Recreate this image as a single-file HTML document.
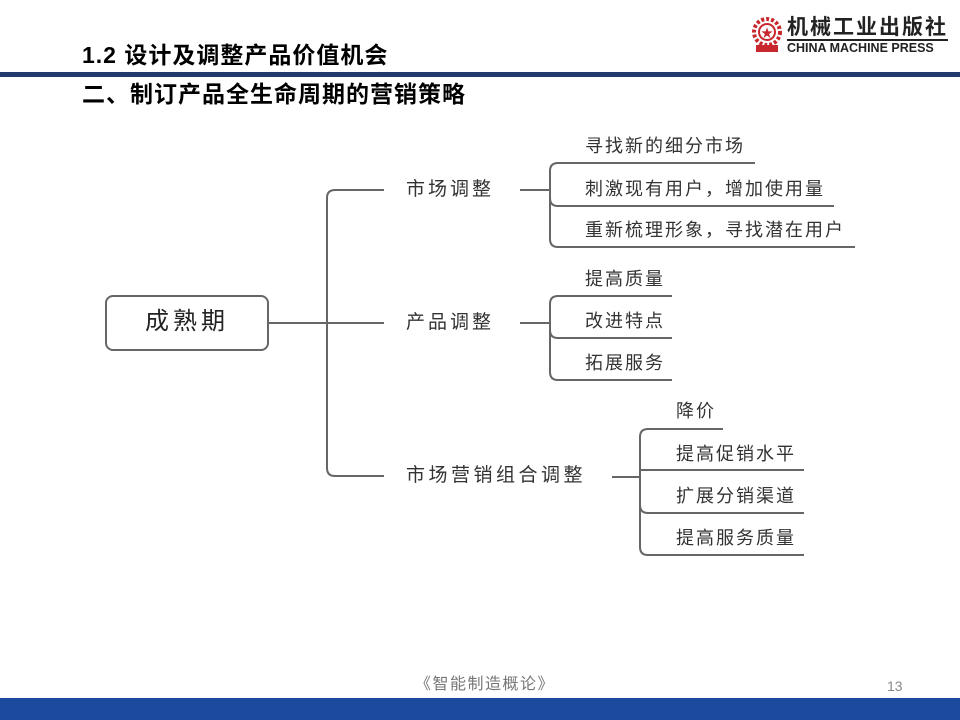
<!DOCTYPE html>
<html><head><meta charset="utf-8"><style>
body{margin:0;width:960px;height:720px;background:#fff;position:relative;overflow:hidden;font-family:"Liberation Sans","Noto Sans CJK SC",sans-serif}
.t{position:absolute;white-space:nowrap;line-height:1}
.h{font-weight:bold;font-size:23px;color:#000;left:82px;letter-spacing:1px}
.n{font-size:18px;color:#333;letter-spacing:2px}
.m{font-size:19px;color:#333;letter-spacing:3px}
</style></head><body>
<div class="t h" style="top:44px">1.2 设计及调整产品价值机会</div>
<div style="position:absolute;left:0;top:72px;width:960px;height:5px;background:#1f3a6b"></div>
<div class="t h" style="top:83px">二、制订产品全生命周期的营销策略</div>
<svg style="position:absolute;left:750px;top:16px" width="36" height="38" viewBox="0 0 36 38">
<circle cx="17" cy="16" r="13" fill="none" stroke="#c8282d" stroke-width="4" stroke-dasharray="3 2"/>
<circle cx="17" cy="16" r="8" fill="#fff" stroke="#c8282d" stroke-width="2"/>
<text x="17" y="21" font-size="12" fill="#c8282d" text-anchor="middle">★</text>
<rect x="6" y="29" width="22" height="7" fill="#c8282d"/>
</svg>
<div class="t" style="left:787px;top:17px;font-size:21px;font-weight:bold;color:#222;letter-spacing:2px;border-bottom:2px solid #222;padding-bottom:1px">机械工业出版社</div>
<div class="t" style="left:787px;top:42px;font-size:12.5px;font-weight:bold;color:#222">CHINA MACHINE PRESS</div>

<svg style="position:absolute;left:0;top:0" width="960" height="720">
<g fill="none" stroke="#666" stroke-width="2">
<rect x="106" y="296" width="162" height="54" rx="7"/>
<line x1="268" y1="323" x2="384" y2="323"/>
<path d="M384 190 H335 Q327 190 327 198 V468 Q327 476 335 476 H384"/>
<line x1="520" y1="190" x2="549" y2="190"/>
<path d="M755 163 H558 Q550 163 550 171 V239 Q550 247 558 247 H855"/>
<path d="M550 198 Q550 206 558 206 H834"/>
<line x1="520" y1="323" x2="549" y2="323"/>
<path d="M672 296 H558 Q550 296 550 304 V372 Q550 380 558 380 H672"/>
<path d="M550 330 Q550 338 558 338 H672"/>
<line x1="612" y1="477" x2="640" y2="477"/>
<path d="M723 429 H648 Q640 429 640 437 V547 Q640 555 648 555 H804"/>
<line x1="640" y1="470" x2="804" y2="470"/>
<path d="M640 505 Q640 513 648 513 H804"/>
</g>
</svg>
<div class="t" style="left:145px;top:310px;font-size:24px;color:#222;letter-spacing:4px">成熟期</div>
<div class="t m" style="left:406px;top:180px">市场调整</div>
<div class="t m" style="left:406px;top:313px">产品调整</div>
<div class="t m" style="left:406px;top:466px;letter-spacing:3.5px">市场营销组合调整</div>
<div class="t n" style="left:585px;top:137px">寻找新的细分市场</div>
<div class="t n" style="left:585px;top:180px">刺激现有用户，增加使用量</div>
<div class="t n" style="left:585px;top:221px">重新梳理形象，寻找潜在用户</div>
<div class="t n" style="left:585px;top:270px">提高质量</div>
<div class="t n" style="left:585px;top:312px">改进特点</div>
<div class="t n" style="left:585px;top:354px">拓展服务</div>
<div class="t n" style="left:676px;top:402px">降价</div>
<div class="t n" style="left:676px;top:445px">提高促销水平</div>
<div class="t n" style="left:676px;top:487px">扩展分销渠道</div>
<div class="t n" style="left:676px;top:529px">提高服务质量</div>
<div class="t" style="left:415px;top:677px;font-size:16px;color:#777;letter-spacing:1.5px">《智能制造概论》</div>
<div class="t" style="left:887px;top:679px;font-size:14px;color:#888">13</div>
<div style="position:absolute;left:0;top:698px;width:960px;height:22px;background:#1b4a9f"></div>
</body></html>
